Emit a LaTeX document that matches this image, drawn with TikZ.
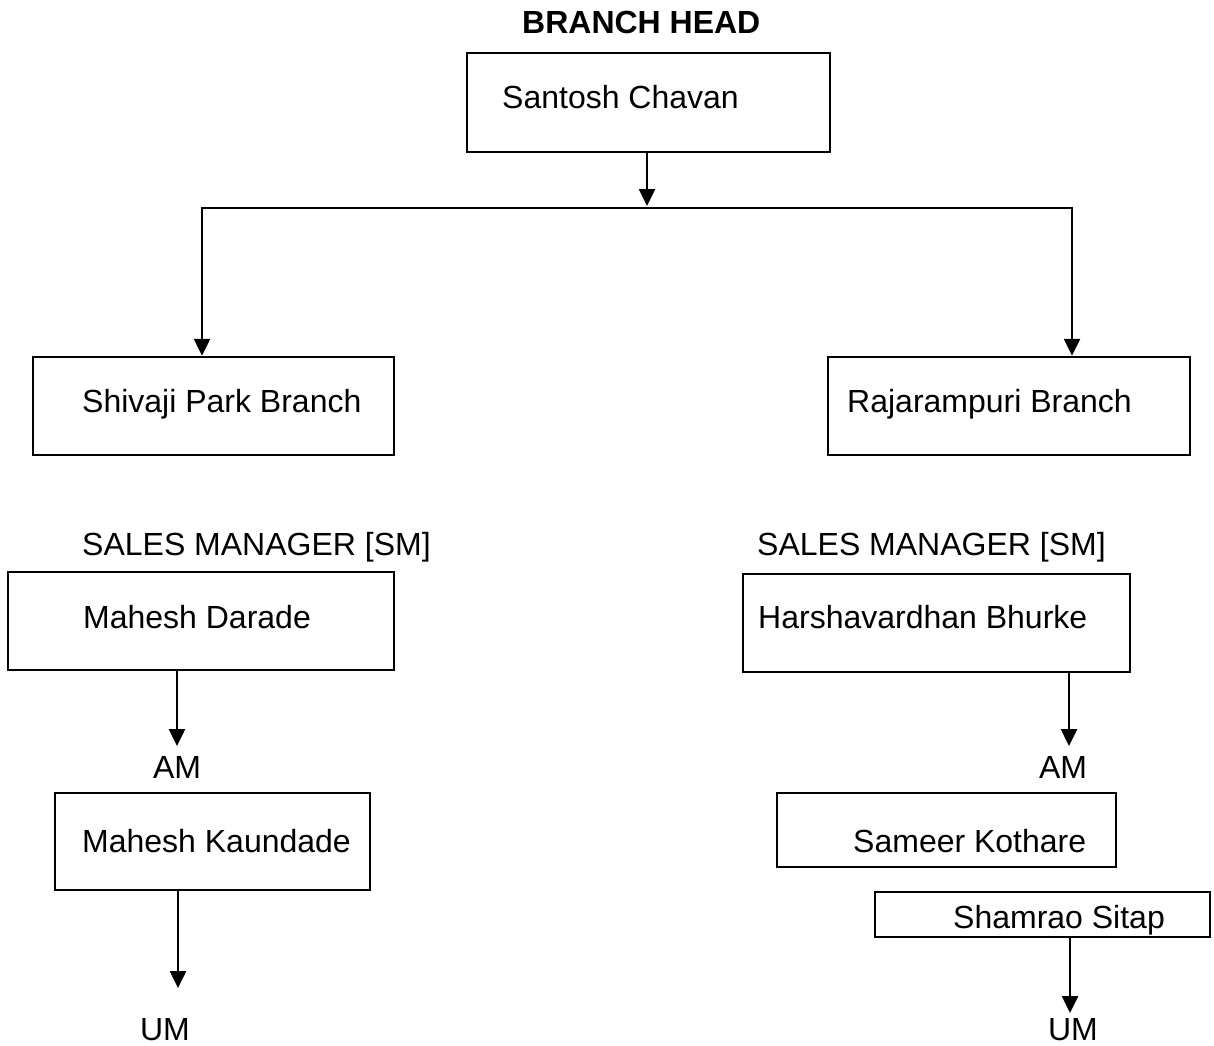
\documentclass[tikz,border=0pt]{standalone}
\usepackage{fontspec}
\setmainfont{Liberation Sans}
\usetikzlibrary{arrows.meta,fit}
\begin{document}
\begin{tikzpicture}[x=1pt,y=-1pt,
  font=\fontsize{32}{38}\selectfont,
  box/.style={draw=black,line width=2.5pt,inner sep=0pt,rectangle},
  txt/.style={inner sep=0pt,anchor=base west},
  ctxt/.style={inner sep=0pt,anchor=base},
  arr/.style={line width=2.5pt,-{Triangle[length=17pt,width=16pt]}},
  conn/.style={line width=2.5pt}]
\useasboundingbox (0,0) rectangle (1214,1045);

% title
\node[txt,font=\fontsize{32}{38}\selectfont\bfseries] (title) at (522,33) {BRANCH HEAD};

% boxes
\node[box,fit={(467,53)(830,152)}] (sc) {};
\node[box,fit={(33,357)(394,455)}] (spb) {};
\node[box,fit={(828,357)(1190,455)}] (rpb) {};
\node[box,fit={(8,572)(394,670)}] (md) {};
\node[box,fit={(743,574)(1130,672)}] (hb) {};
\node[box,fit={(55,793)(370,890)}] (mk) {};
\node[box,fit={(777,793)(1116,867)}] (sk) {};
\node[box,fit={(875,892)(1210,937)}] (ss) {};

% box texts
\node[txt] (tsc) at (502,108) {Santosh Chavan};
\node[txt] (tspb) at (82,412) {Shivaji Park Branch};
\node[txt] (trpb) at (847,412) {Rajarampuri Branch};
\node[txt] (tmd) at (83,628) {Mahesh Darade};
\node[txt] (thb) at (758,628) {Harshavardhan Bhurke};
\node[txt] (tmk) at (82,852) {Mahesh Kaundade};
\node[txt] (tsk) at (853,852) {Sameer Kothare};
\node[txt] (tss) at (953,928) {Shamrao Sitap};

% free labels
\node[txt] (smL) at (82,555) {SALES MANAGER [SM]};
\node[txt] (smR) at (757,555) {SALES MANAGER [SM]};
\node[ctxt] (amL) at (177,778) {AM};
\node[ctxt] (amR) at (1063,778) {AM};
\node[ctxt] (umL) at (165,1040) {UM};
\node[ctxt] (umR) at (1073,1040) {UM};

% coordinates
\coordinate (j) at (647,206);
\coordinate (hl) at (202,208);
\coordinate (hr) at (1072,208);
\coordinate (tAL) at (177,746);
\coordinate (tAR) at (1069,746);
\coordinate (tUL) at (178,988);
\coordinate (tUR) at (1070,1013);

% connectors
\draw[arr] (sc.south -| j) -- (j);
\draw[conn] ([xshift=-1.25pt]hl) -- ([xshift=1.25pt]hr);
\draw[arr] (hl) -- (hl |- spb.north);
\draw[arr] (hr) -- (hr |- rpb.north);
\draw[arr] (md.south -| tAL) -- (tAL);
\draw[arr] (hb.south -| tAR) -- (tAR);
\draw[arr] (mk.south -| tUL) -- (tUL);
\draw[arr] (ss.south -| tUR) -- (tUR);
\end{tikzpicture}
\end{document}
